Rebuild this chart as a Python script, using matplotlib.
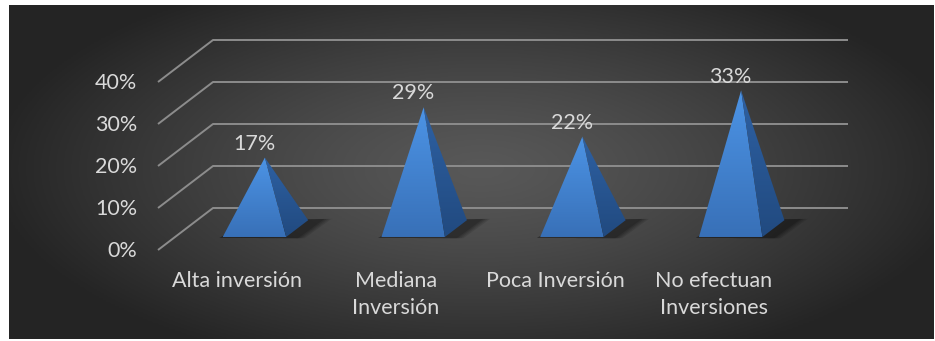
import numpy as np
import matplotlib
matplotlib.use("Agg")
from matplotlib import pyplot as plt
from matplotlib.patches import Polygon

# data
categories = ["Alta inversión", "Mediana\nInversión", "Poca Inversión", "No efectuan\nInversiones"]
values = [17, 29, 22, 33]
value_labels = ["17%", "29%", "22%", "33%"]
ticks = [0, 10, 20, 30, 40]
tick_labels = ["0%", "10%", "20%", "30%", "40%"]

plt.rcParams['font.family'] = ['Lato', 'DejaVu Sans']

W, H = 935, 341
fig = plt.figure(figsize=(W / 100, H / 100), dpi=100)

# radial gradient background
bg = fig.add_axes([9 / W, 2 / H, 925 / W, 334 / H])
bg.set_axis_off()
gx, gy = np.meshgrid(np.linspace(-1, 1, 400), np.linspace(-1, 1, 160))
r = np.sqrt(((gx - 0.02) / 1.05) ** 2 + ((gy + 0.02) / 1.25) ** 2)
r = np.clip(r, 0, 1)
shade = 0.345 - 0.2 * r ** 1.3
bg.imshow(np.dstack([shade] * 3), aspect='auto', extent=(0, 1, 0, 1))
bg.set_xlim(0, 1)
bg.set_ylim(0, 1)

# main axes: x in category units, y in percent, oblique depth
px_per_cat = 158.75
px_per_pct = 4.2
x0_px, y0_px = 158, 250
ax = fig.add_axes([0, 0, 1, 1])
ax.set_axis_off()
ax.patch.set_alpha(0)

depth_u = 55 / px_per_cat
depth_v = 42 / px_per_pct


def proj(u, v, d):
    return (u + d * depth_u, v + d * depth_v)


def shaded(poly, top, bot):
    # fill a polygon with a vertical gradient from top to bottom colour
    patch = Polygon(poly, closed=True, fc='none', ec='none', zorder=4)
    ax.add_patch(patch)
    xs = [p[0] for p in poly]
    ys = [p[1] for p in poly]
    g = np.linspace(0, 1, 64)[:, None, None]
    img = np.array(top)[None, None, :] * (1 - g) + np.array(bot)[None, None, :] * g
    img = np.repeat(img, 2, axis=1)
    im = ax.imshow(img, aspect='auto', extent=(min(xs), max(xs), min(ys), max(ys)),
                   zorder=4, interpolation='bilinear')
    im.set_clip_path(patch)


grid_col = '#8c8c8c'
txt_col = '#d9d9d9'
fs = 15.5
n = len(categories)
for t in ticks:
    p0 = proj(0, t, 0)
    p1 = proj(0, t, 1)
    p2 = proj(n, t, 1)
    ax.plot([p0[0], p1[0], p2[0]], [p0[1], p1[1], p2[1]], color=grid_col, lw=1.4,
            solid_capstyle='butt', zorder=2)

for t, lab in zip(ticks, tick_labels):
    ax.text(-21 / px_per_cat, t - 0.3, lab, ha='right', va='center', color=txt_col,
            fontsize=fs, zorder=5)

half_w = 0.2
d_front, d_back, d_apex = 0.31, 0.71, 0.5

for i, (val, lab) in enumerate(zip(values, value_labels)):
    c = i + 0.5
    fl = proj(c - half_w, 0, d_front)
    fr = proj(c + half_w, 0, d_front)
    br = proj(c + half_w, 0, d_back)
    bl = proj(c - half_w, 0, d_back)
    apex = proj(c, val, d_apex)

    # soft shadow on the floor
    for k, a in enumerate([0.10, 0.10, 0.12, 0.15]):
        grow = (4 - k) * 0.014
        sh = [(fl[0] - 0.02, fl[1] - 0.2), (fr[0] + grow + 0.06, fr[1] - 0.3),
              (br[0] + grow + 0.09, br[1] + 0.3), (bl[0] + 0.05, bl[1])]
        ax.add_patch(Polygon(sh, closed=True, fc='black', ec='none', alpha=a, zorder=3))

    shaded([fl, fr, apex], (0.30, 0.58, 0.90), (0.22, 0.44, 0.72))
    shaded([fr, br, apex], (0.18, 0.38, 0.64), (0.13, 0.29, 0.50))

    # value label above the apex
    ax.text(c + d_front * depth_u, apex[1] + 3.3, lab, ha='center', va='center',
            color=txt_col, fontsize=fs, zorder=5)

    # category label under the front plane
    ax.text(c, -(271 - y0_px) / px_per_pct, categories[i], ha='center', va='top',
            color=txt_col, fontsize=fs, linespacing=1.45, zorder=5)

ax.set_xlim(-x0_px / px_per_cat, (W - x0_px) / px_per_cat)
ax.set_ylim(-(H - y0_px) / px_per_pct, y0_px / px_per_pct)

fig.savefig('out.png', dpi=100, facecolor='white')
